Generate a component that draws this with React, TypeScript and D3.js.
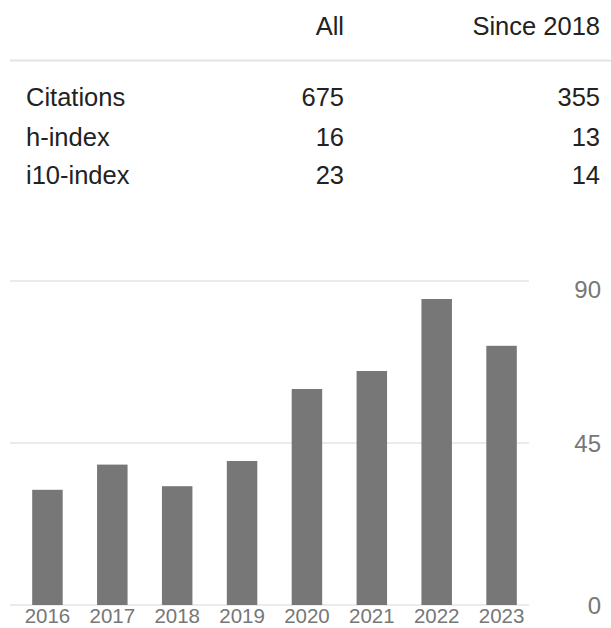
import React, { useEffect } from "react";
import * as d3 from "d3";

// citation table
const columns = ["All", "Since 2018"];
const rowLabels = ["Citations", "h-index", "i10-index"];
const allValues = [675, 16, 23];
const sinceValues = [355, 13, 14];

// citations per year
const years = ["2016", "2017", "2018", "2019", "2020", "2021", "2022", "2023"];
const citations = [32, 39, 33, 40, 60, 65, 85, 72];
const yTicks = [0, 45, 90];

const W = 611;
const H = 628;
const FONT = "Arial, 'Liberation Sans', sans-serif";

const App = () => {
  useEffect(() => {
    document.body.style.margin = "0";
  }, []);

  const x = d3
    .scaleBand()
    .domain(years)
    .range([15, 534])
    .paddingInner(0.53)
    .paddingOuter(0.265);

  const y = d3.scaleLinear().domain([0, 90]).range([605, 281]);

  const rowY = [106, 145.5, 184];
  const colRight = [344, 600];

  return (
    <svg width={W} height={H} style={{ display: "block", fontFamily: FONT }}>
      <rect width={W} height={H} fill="#fff" />

      {/* table header */}
      {columns.map((c, i) => (
        <text key={c} x={colRight[i]} y={35} textAnchor="end" fontSize={25.5} fill="#222">
          {c}
        </text>
      ))}
      <line x1={10} x2={W} y1={60.5} y2={60.5} stroke="#e3e3e3" strokeWidth={2} />

      {/* table rows */}
      {rowLabels.map((r, i) => (
        <g key={r}>
          <text x={26} y={rowY[i]} fontSize={25.5} fill="#222">
            {r}
          </text>
          <text x={colRight[0]} y={rowY[i]} textAnchor="end" fontSize={25.5} fill="#222">
            {allValues[i]}
          </text>
          <text x={colRight[1]} y={rowY[i]} textAnchor="end" fontSize={25.5} fill="#222">
            {sinceValues[i]}
          </text>
        </g>
      ))}

      {/* grid */}
      {yTicks.map((t) => (
        <line key={t} x1={10} x2={529} y1={y(t)} y2={y(t)} stroke="#ebebeb" strokeWidth={2} />
      ))}

      {/* bars */}
      {citations.map((v, i) => (
        <rect
          key={years[i]}
          x={x(years[i])}
          y={y(v)}
          width={x.bandwidth()}
          height={y(0) - y(v)}
          fill="#777"
        />
      ))}

      {/* y labels on the right */}
      {yTicks.map((t) => (
        <text
          key={t}
          x={601}
          y={Math.max(y(t), 289) + 8.5}
          textAnchor="end"
          fontSize={24}
          fill="#777"
        >
          {t}
        </text>
      ))}

      {/* year labels */}
      {years.map((yr) => (
        <text
          key={yr}
          x={(x(yr) || 0) + x.bandwidth() / 2}
          y={623}
          textAnchor="middle"
          fontSize={20.5}
          fill="#777"
        >
          {yr}
        </text>
      ))}
    </svg>
  );
};

export default App;
